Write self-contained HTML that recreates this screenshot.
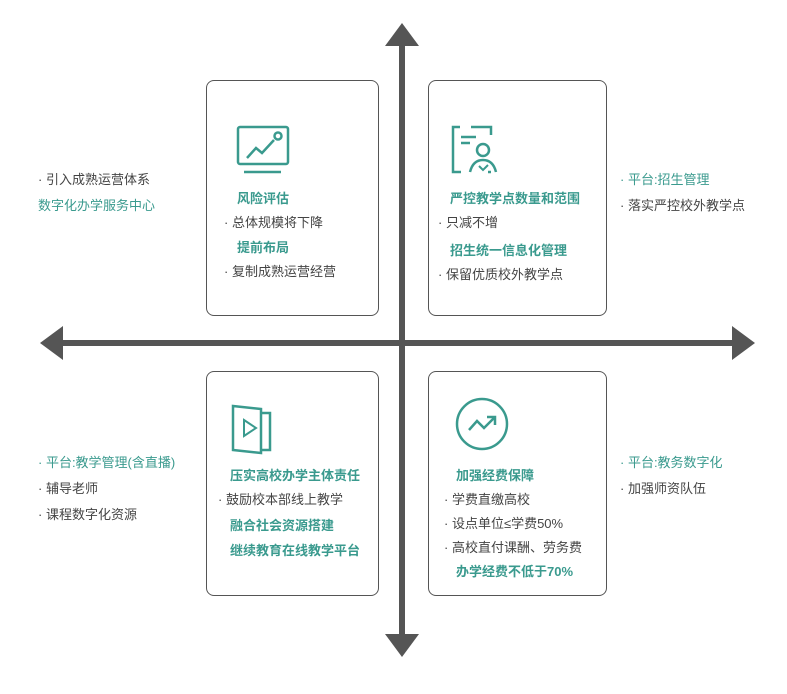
<!DOCTYPE html>
<html><head><meta charset="utf-8"><style>
body{margin:0;width:787px;height:694px;background:#fff;position:relative;overflow:hidden;font-family:"Liberation Sans","Noto Sans CJK SC",sans-serif;font-size:13px;}
.box{position:absolute;border:1.5px solid #555;border-radius:8px;box-sizing:border-box;}
.t{position:absolute;white-space:nowrap;line-height:16px;}
.g{color:#3a9a8e;}
.d{color:#444;}
</style></head><body>
<svg width="787" height="694" style="position:absolute;left:0;top:0">
<rect x="399" y="40" width="6" height="600" fill="#555"/>
<rect x="58" y="340" width="680" height="6" fill="#555"/>
<polygon points="402,23 385,46 419,46" fill="#555"/>
<polygon points="402,657 385,634 419,634" fill="#555"/>
<polygon points="40,343 63,326 63,360" fill="#555"/>
<polygon points="755,343 732,326 732,360" fill="#555"/>
</svg>
<div class="box" style="left:206px;top:80px;width:173px;height:236px"></div>
<div class="box" style="left:428px;top:80px;width:179px;height:236px"></div>
<div class="box" style="left:206px;top:371px;width:173px;height:225px"></div>
<div class="box" style="left:428px;top:371px;width:179px;height:225px"></div>
<svg width="787" height="694" style="position:absolute;left:0;top:0" fill="none" stroke="#3a9a8e" stroke-width="2.5">
<rect x="238" y="127" width="50" height="37" rx="2"/>
<line x1="244" y1="172" x2="281" y2="172"/>
<polyline points="247,158 256,148 262,153 274,140"/>
<circle cx="278" cy="136" r="3.5"/>
<path d="M460,127 H453 V172 H461 M491,135 V127 H471 M491,172 H488"/>
<line x1="461" y1="137" x2="476" y2="137"/><line x1="461" y1="143" x2="470" y2="143"/>
<circle cx="483" cy="150" r="6"/>
<path d="M470,172 Q473,160 483,160 Q493,160 496,172"/>
<polyline points="479,166 483,170 488,165" stroke-width="2"/>
<path d="M233,406 L261,409 V453 L233,450 Z"/>
<path d="M261,413 H270 V450 H261"/>
<path d="M244,420 L256,428 L244,436 Z" stroke-width="2"/>
<circle cx="482" cy="424" r="25"/>
<polyline points="469,430 477,421 484,428 494,418"/>
<polyline points="487,417 495,417 495,425"/>
</svg>
<div class="t d" style="left:38px;top:172px">· 引入成熟运营体系</div>
<div class="t g" style="left:38px;top:198px">数字化办学服务中心</div>
<div class="t g" style="left:237px;top:191px;font-weight:bold">风险评估</div>
<div class="t d" style="left:224px;top:215px">· 总体规模将下降</div>
<div class="t g" style="left:237px;top:240px;font-weight:bold">提前布局</div>
<div class="t d" style="left:224px;top:264px">· 复制成熟运营经营</div>
<div class="t g" style="left:450px;top:191px;font-weight:bold">严控教学点数量和范围</div>
<div class="t d" style="left:438px;top:215px">· 只减不增</div>
<div class="t g" style="left:450px;top:243px;font-weight:bold">招生统一信息化管理</div>
<div class="t d" style="left:438px;top:267px">· 保留优质校外教学点</div>
<div class="t g" style="left:620px;top:172px">· 平台:招生管理</div>
<div class="t d" style="left:620px;top:198px">· 落实严控校外教学点</div>
<div class="t g" style="left:38px;top:455px">· 平台:教学管理(含直播)</div>
<div class="t d" style="left:38px;top:481px">· 辅导老师</div>
<div class="t d" style="left:38px;top:507px">· 课程数字化资源</div>
<div class="t g" style="left:230px;top:468px;font-weight:bold">压实高校办学主体责任</div>
<div class="t d" style="left:218px;top:492px">· 鼓励校本部线上教学</div>
<div class="t g" style="left:230px;top:518px;font-weight:bold">融合社会资源搭建</div>
<div class="t g" style="left:230px;top:543px;font-weight:bold">继续教育在线教学平台</div>
<div class="t g" style="left:456px;top:468px;font-weight:bold">加强经费保障</div>
<div class="t d" style="left:444px;top:492px">· 学费直缴高校</div>
<div class="t d" style="left:444px;top:516px">· 设点单位≤学费50%</div>
<div class="t d" style="left:444px;top:540px">· 高校直付课酬、劳务费</div>
<div class="t g" style="left:456px;top:564px;font-weight:bold">办学经费不低于70%</div>
<div class="t g" style="left:620px;top:455px">· 平台:教务数字化</div>
<div class="t d" style="left:620px;top:481px">· 加强师资队伍</div>
</body></html>
